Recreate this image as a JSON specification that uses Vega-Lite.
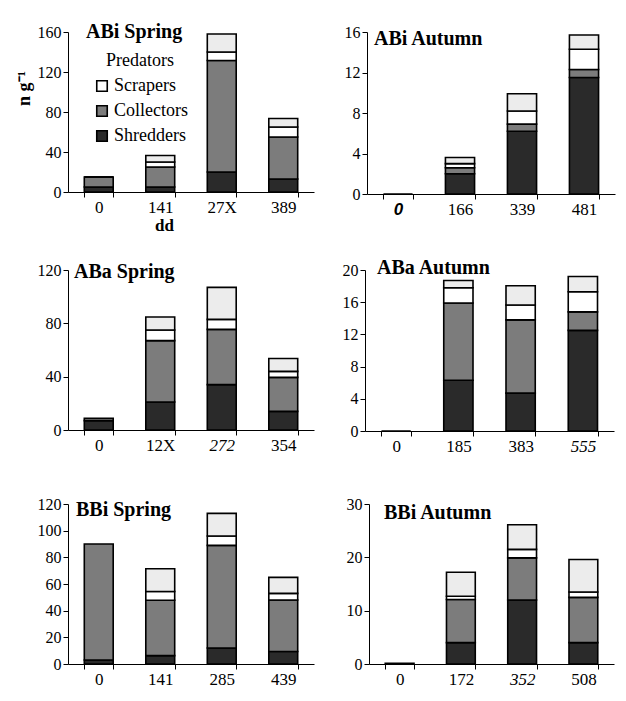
{
  "$schema": "https://vega.github.io/schema/vega-lite/v6.json",
  "padding": {"left": 15, "top": 22, "right": 5, "bottom": 5},
  "background": "white",
  "datasets": {
    "bugs": [
      {"panel": "ABi Spring", "dd": "0", "group": "Shredders", "value": 5},
      {"panel": "ABi Spring", "dd": "0", "group": "Collectors", "value": 10},
      {"panel": "ABi Spring", "dd": "0", "group": "Scrapers", "value": 0},
      {"panel": "ABi Spring", "dd": "0", "group": "Predators", "value": 0},
      {"panel": "ABi Spring", "dd": "141", "group": "Shredders", "value": 5},
      {"panel": "ABi Spring", "dd": "141", "group": "Collectors", "value": 20},
      {"panel": "ABi Spring", "dd": "141", "group": "Scrapers", "value": 5},
      {"panel": "ABi Spring", "dd": "141", "group": "Predators", "value": 6.5},
      {"panel": "ABi Spring", "dd": "27X", "group": "Shredders", "value": 20},
      {"panel": "ABi Spring", "dd": "27X", "group": "Collectors", "value": 111.5},
      {"panel": "ABi Spring", "dd": "27X", "group": "Scrapers", "value": 8.5},
      {"panel": "ABi Spring", "dd": "27X", "group": "Predators", "value": 18},
      {"panel": "ABi Spring", "dd": "389", "group": "Shredders", "value": 13},
      {"panel": "ABi Spring", "dd": "389", "group": "Collectors", "value": 42},
      {"panel": "ABi Spring", "dd": "389", "group": "Scrapers", "value": 10},
      {"panel": "ABi Spring", "dd": "389", "group": "Predators", "value": 8.5},

      {"panel": "ABi Autumn", "dd": "0", "group": "Shredders", "value": 0},
      {"panel": "ABi Autumn", "dd": "166", "group": "Shredders", "value": 2.0},
      {"panel": "ABi Autumn", "dd": "166", "group": "Collectors", "value": 0.6},
      {"panel": "ABi Autumn", "dd": "166", "group": "Scrapers", "value": 0.4},
      {"panel": "ABi Autumn", "dd": "166", "group": "Predators", "value": 0.6},
      {"panel": "ABi Autumn", "dd": "339", "group": "Shredders", "value": 6.2},
      {"panel": "ABi Autumn", "dd": "339", "group": "Collectors", "value": 0.7},
      {"panel": "ABi Autumn", "dd": "339", "group": "Scrapers", "value": 1.3},
      {"panel": "ABi Autumn", "dd": "339", "group": "Predators", "value": 1.7},
      {"panel": "ABi Autumn", "dd": "481", "group": "Shredders", "value": 11.5},
      {"panel": "ABi Autumn", "dd": "481", "group": "Collectors", "value": 0.8},
      {"panel": "ABi Autumn", "dd": "481", "group": "Scrapers", "value": 2.0},
      {"panel": "ABi Autumn", "dd": "481", "group": "Predators", "value": 1.4},

      {"panel": "ABa Spring", "dd": "0", "group": "Shredders", "value": 7},
      {"panel": "ABa Spring", "dd": "0", "group": "Collectors", "value": 1.8},
      {"panel": "ABa Spring", "dd": "12X", "group": "Shredders", "value": 21},
      {"panel": "ABa Spring", "dd": "12X", "group": "Collectors", "value": 46},
      {"panel": "ABa Spring", "dd": "12X", "group": "Scrapers", "value": 8},
      {"panel": "ABa Spring", "dd": "12X", "group": "Predators", "value": 9.8},
      {"panel": "ABa Spring", "dd": "272", "group": "Shredders", "value": 34},
      {"panel": "ABa Spring", "dd": "272", "group": "Collectors", "value": 41.5},
      {"panel": "ABa Spring", "dd": "272", "group": "Scrapers", "value": 7.5},
      {"panel": "ABa Spring", "dd": "272", "group": "Predators", "value": 24},
      {"panel": "ABa Spring", "dd": "354", "group": "Shredders", "value": 14},
      {"panel": "ABa Spring", "dd": "354", "group": "Collectors", "value": 25.5},
      {"panel": "ABa Spring", "dd": "354", "group": "Scrapers", "value": 4.5},
      {"panel": "ABa Spring", "dd": "354", "group": "Predators", "value": 9.6},

      {"panel": "ABa Autumn", "dd": "0", "group": "Shredders", "value": 0},
      {"panel": "ABa Autumn", "dd": "185", "group": "Shredders", "value": 6.3},
      {"panel": "ABa Autumn", "dd": "185", "group": "Collectors", "value": 9.6},
      {"panel": "ABa Autumn", "dd": "185", "group": "Scrapers", "value": 1.9},
      {"panel": "ABa Autumn", "dd": "185", "group": "Predators", "value": 0.9},
      {"panel": "ABa Autumn", "dd": "383", "group": "Shredders", "value": 4.7},
      {"panel": "ABa Autumn", "dd": "383", "group": "Collectors", "value": 9.1},
      {"panel": "ABa Autumn", "dd": "383", "group": "Scrapers", "value": 1.85},
      {"panel": "ABa Autumn", "dd": "383", "group": "Predators", "value": 2.4},
      {"panel": "ABa Autumn", "dd": "555", "group": "Shredders", "value": 12.5},
      {"panel": "ABa Autumn", "dd": "555", "group": "Collectors", "value": 2.3},
      {"panel": "ABa Autumn", "dd": "555", "group": "Scrapers", "value": 2.5},
      {"panel": "ABa Autumn", "dd": "555", "group": "Predators", "value": 1.9},

      {"panel": "BBi Spring", "dd": "0", "group": "Shredders", "value": 3},
      {"panel": "BBi Spring", "dd": "0", "group": "Collectors", "value": 87},
      {"panel": "BBi Spring", "dd": "141", "group": "Shredders", "value": 6.3},
      {"panel": "BBi Spring", "dd": "141", "group": "Collectors", "value": 41.5},
      {"panel": "BBi Spring", "dd": "141", "group": "Scrapers", "value": 6.6},
      {"panel": "BBi Spring", "dd": "141", "group": "Predators", "value": 17},
      {"panel": "BBi Spring", "dd": "285", "group": "Shredders", "value": 12},
      {"panel": "BBi Spring", "dd": "285", "group": "Collectors", "value": 77},
      {"panel": "BBi Spring", "dd": "285", "group": "Scrapers", "value": 7},
      {"panel": "BBi Spring", "dd": "285", "group": "Predators", "value": 17},
      {"panel": "BBi Spring", "dd": "439", "group": "Shredders", "value": 9.4},
      {"panel": "BBi Spring", "dd": "439", "group": "Collectors", "value": 38.6},
      {"panel": "BBi Spring", "dd": "439", "group": "Scrapers", "value": 5},
      {"panel": "BBi Spring", "dd": "439", "group": "Predators", "value": 12},

      {"panel": "BBi Autumn", "dd": "0", "group": "Shredders", "value": 0.15},
      {"panel": "BBi Autumn", "dd": "172", "group": "Shredders", "value": 4},
      {"panel": "BBi Autumn", "dd": "172", "group": "Collectors", "value": 8.1},
      {"panel": "BBi Autumn", "dd": "172", "group": "Scrapers", "value": 0.6},
      {"panel": "BBi Autumn", "dd": "172", "group": "Predators", "value": 4.5},
      {"panel": "BBi Autumn", "dd": "352", "group": "Shredders", "value": 12},
      {"panel": "BBi Autumn", "dd": "352", "group": "Collectors", "value": 7.9},
      {"panel": "BBi Autumn", "dd": "352", "group": "Scrapers", "value": 1.6},
      {"panel": "BBi Autumn", "dd": "352", "group": "Predators", "value": 4.6},
      {"panel": "BBi Autumn", "dd": "508", "group": "Shredders", "value": 4},
      {"panel": "BBi Autumn", "dd": "508", "group": "Collectors", "value": 8.5},
      {"panel": "BBi Autumn", "dd": "508", "group": "Scrapers", "value": 1},
      {"panel": "BBi Autumn", "dd": "508", "group": "Predators", "value": 6.1}
    ]
  },
  "config": {
    "view": {"stroke": null},
    "font": "Liberation Serif",
    "axis": {"labelFont": "Liberation Serif", "labelColor": "black", "domainColor": "black", "tickColor": "black", "grid": false, "titleFont": "Liberation Serif", "titleColor": "black", "titleFontWeight": "bold"},
    "axisX": {"tickBand": "extent", "labelAngle": 0, "labelFontSize": 17, "labelPadding": 2, "tickSize": 5},
    "axisY": {"labelFontSize": 16, "labelPadding": 2, "tickSize": 5},
    "title": {"font": "Liberation Serif", "fontSize": 20, "fontWeight": "bold", "anchor": "start", "frame": "group", "baseline": "alphabetic", "color": "black"},
    "bar": {"stroke": "black", "strokeWidth": 1.6}
  },
  "columns": 1,
  "align": "none",
  "spacing": 25,
  "concat": [
    {
      "spacing": 30,
      "hconcat": [
        {
          "title": {"text": "ABi Spring", "offset": -18, "dx": 18},
          "width": 246, "height": 160,
          "data": {"name": "bugs"},
          "transform": [{"filter": "datum.panel === 'ABi Spring'"}, {"calculate": "indexof(['Shredders','Collectors','Scrapers','Predators'], datum.group)", "as": "stackorder"}],
          "mark": "bar",
          "encoding": {
            "x": {"field": "dd", "type": "nominal", "scale": {"paddingInner": 0.53, "paddingOuter": 0.265}, "axis": {"title": "dd", "titleFontSize": 17, "titlePadding": 2, "titleX": 96}},
            "y": {"field": "value", "type": "quantitative", "stack": "zero", "scale": {"domain": [0, 160], "nice": false}, "axis": {"values": [0, 40, 80, 120, 160], "title": "n g⁻¹", "titleFontSize": 18, "titleY": 56, "titlePadding": 4}},
            "order": {"field": "stackorder", "type": "quantitative"},
            "color": {"field": "group", "type": "nominal",
              "scale": {"domain": ["Predators", "Scrapers", "Collectors", "Shredders"], "range": ["#ececec", "#ffffff", "#7c7c7c", "#2a2a2a"]},
              "legend": {"orient": "none", "legendX": 25, "legendY": 20, "values": ["Scrapers", "Collectors", "Shredders"],
                "title": "Predators", "titleFont": "Liberation Serif", "titleFontSize": 18, "titleFontWeight": "normal", "titleColor": "black", "titleAnchor": "middle", "titlePadding": 7,
                "labelFont": "Liberation Serif", "labelFontSize": 18, "labelColor": "black", "symbolType": "square", "symbolSize": 110, "symbolStrokeColor": "black", "symbolStrokeWidth": 1, "rowPadding": 7, "labelOffset": 3}}
          }
        },
        {
          "title": {"text": "ABi Autumn", "offset": -25, "dx": 7},
          "width": 248, "height": 162,
          "data": {"name": "bugs"},
          "transform": [{"filter": "datum.panel === 'ABi Autumn'"}, {"calculate": "indexof(['Shredders','Collectors','Scrapers','Predators'], datum.group)", "as": "stackorder"}],
          "mark": "bar",
          "encoding": {
            "x": {"field": "dd", "type": "nominal", "scale": {"paddingInner": 0.53, "paddingOuter": 0.265}, "axis": {"title": null,
              "labelFontStyle": {"condition": {"test": "datum.value === '0'", "value": "italic"}, "value": "normal"},
              "labelFont": {"condition": {"test": "datum.value === '0'", "value": "Liberation Sans"}, "value": "Liberation Serif"},
              "labelFontWeight": {"condition": {"test": "datum.value === '0'", "value": "bold"}, "value": "normal"}}},
            "y": {"field": "value", "type": "quantitative", "stack": "zero", "scale": {"domain": [0, 16], "nice": false}, "axis": {"values": [0, 4, 8, 12, 16], "title": null}},
            "order": {"field": "stackorder", "type": "quantitative"},
            "color": {"field": "group", "type": "nominal",
              "scale": {"domain": ["Predators", "Scrapers", "Collectors", "Shredders"], "range": ["#ececec", "#ffffff", "#7c7c7c", "#2a2a2a"]}, "legend": null}
          }
        }
      ]
    },
    {
      "columns": 1,
      "align": "none",
      "spacing": 42,
      "concat": [
        {
          "spacing": 28,
          "hconcat": [
            {
              "title": {"text": "ABa Spring", "offset": -20, "dx": 6},
              "width": 246, "height": 160,
              "data": {"name": "bugs"},
              "transform": [{"filter": "datum.panel === 'ABa Spring'"}, {"calculate": "indexof(['Shredders','Collectors','Scrapers','Predators'], datum.group)", "as": "stackorder"}],
              "mark": "bar",
              "encoding": {
                "x": {"field": "dd", "type": "nominal", "scale": {"paddingInner": 0.53, "paddingOuter": 0.265}, "axis": {"title": null,
                  "labelFontStyle": {"condition": {"test": "datum.value === '272'", "value": "italic"}, "value": "normal"}}},
                "y": {"field": "value", "type": "quantitative", "stack": "zero", "scale": {"domain": [0, 120], "nice": false}, "axis": {"values": [0, 40, 80, 120], "title": null}},
                "order": {"field": "stackorder", "type": "quantitative"},
                "color": {"field": "group", "type": "nominal",
                  "scale": {"domain": ["Predators", "Scrapers", "Collectors", "Shredders"], "range": ["#ececec", "#ffffff", "#7c7c7c", "#2a2a2a"]}, "legend": null}
              }
            },
            {
              "title": {"text": "ABa Autumn", "offset": -16, "dx": 12},
              "width": 249, "height": 161,
              "data": {"name": "bugs"},
              "transform": [{"filter": "datum.panel === 'ABa Autumn'"}, {"calculate": "indexof(['Shredders','Collectors','Scrapers','Predators'], datum.group)", "as": "stackorder"}],
              "mark": "bar",
              "encoding": {
                "x": {"field": "dd", "type": "nominal", "scale": {"paddingInner": 0.53, "paddingOuter": 0.265}, "axis": {"title": null,
                  "labelFontStyle": {"condition": {"test": "datum.value === '555'", "value": "italic"}, "value": "normal"}}},
                "y": {"field": "value", "type": "quantitative", "stack": "zero", "scale": {"domain": [0, 20], "nice": false}, "axis": {"values": [0, 4, 8, 12, 16, 20], "title": null}},
                "order": {"field": "stackorder", "type": "quantitative"},
                "color": {"field": "group", "type": "nominal",
                  "scale": {"domain": ["Predators", "Scrapers", "Collectors", "Shredders"], "range": ["#ececec", "#ffffff", "#7c7c7c", "#2a2a2a"]}, "legend": null}
              }
            }
          ]
        },
        {
          "spacing": 32,
          "hconcat": [
            {
              "title": {"text": "BBi Spring", "offset": -24, "dx": 8},
              "width": 246, "height": 160,
              "data": {"name": "bugs"},
              "transform": [{"filter": "datum.panel === 'BBi Spring'"}, {"calculate": "indexof(['Shredders','Collectors','Scrapers','Predators'], datum.group)", "as": "stackorder"}],
              "mark": "bar",
              "encoding": {
                "x": {"field": "dd", "type": "nominal", "scale": {"paddingInner": 0.53, "paddingOuter": 0.265}, "axis": {"title": null}},
                "y": {"field": "value", "type": "quantitative", "stack": "zero", "scale": {"domain": [0, 120], "nice": false}, "axis": {"values": [0, 20, 40, 60, 80, 100, 120], "title": null}},
                "order": {"field": "stackorder", "type": "quantitative"},
                "color": {"field": "group", "type": "nominal",
                  "scale": {"domain": ["Predators", "Scrapers", "Collectors", "Shredders"], "range": ["#ececec", "#ffffff", "#7c7c7c", "#2a2a2a"]}, "legend": null}
              }
            },
            {
              "title": {"text": "BBi Autumn", "offset": -27, "dx": 15},
              "width": 245, "height": 160,
              "data": {"name": "bugs"},
              "transform": [{"filter": "datum.panel === 'BBi Autumn'"}, {"calculate": "indexof(['Shredders','Collectors','Scrapers','Predators'], datum.group)", "as": "stackorder"}],
              "mark": "bar",
              "encoding": {
                "x": {"field": "dd", "type": "nominal", "scale": {"paddingInner": 0.53, "paddingOuter": 0.265}, "axis": {"title": null,
                  "labelFontStyle": {"condition": {"test": "datum.value === '352'", "value": "italic"}, "value": "normal"}}},
                "y": {"field": "value", "type": "quantitative", "stack": "zero", "scale": {"domain": [0, 30], "nice": false}, "axis": {"values": [0, 10, 20, 30], "title": null}},
                "order": {"field": "stackorder", "type": "quantitative"},
                "color": {"field": "group", "type": "nominal",
                  "scale": {"domain": ["Predators", "Scrapers", "Collectors", "Shredders"], "range": ["#ececec", "#ffffff", "#7c7c7c", "#2a2a2a"]}, "legend": null}
              }
            }
          ]
        }
      ]
    }
  ]
}
